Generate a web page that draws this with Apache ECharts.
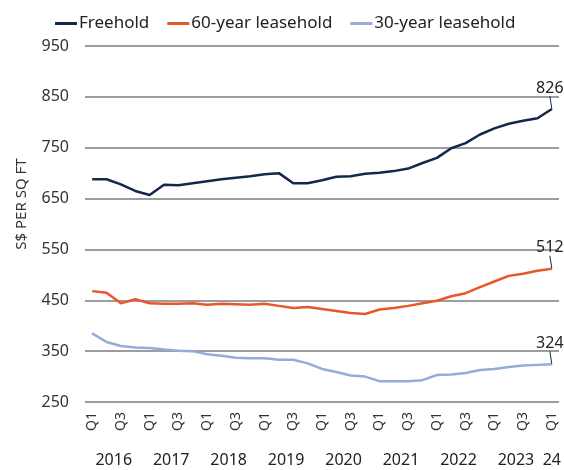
<!DOCTYPE html>
<html>
<head>
<meta charset="utf-8">
<script src="https://cdn.jsdelivr.net/npm/echarts@6/dist/echarts.min.js"></script>
<style>
html,body{margin:0;padding:0;background:#fff;}
#c{width:564px;height:470px;}
</style>
</head>
<body>
<div id="c"></div>
<script>
const quarterLabels = ['Q1','Q2','Q3','Q4','Q1','Q2','Q3','Q4','Q1','Q2','Q3','Q4','Q1','Q2','Q3','Q4','Q1','Q2','Q3','Q4','Q1','Q2','Q3','Q4','Q1','Q2','Q3','Q4','Q1','Q2','Q3','Q4','Q1'];
const yearLabels = ['2016','2017','2018','2019','2020','2021','2022','2023','24'];
const freehold = [688,688,678,665,657,677,676,680,684,688,691,694,698,700,680,680,686,693,694,699,701,704,709,720,730,749,759,776,788,797,803,808,826];
const lease60 = [468,465,444,452,444,443,443,444,441,443,442,441,443,439,435,437,433,429,425,423,432,435,439,444,449,458,464,476,487,498,502,508,512];
const lease30 = [385,368,360,357,356,353,351,350,344,341,337,336,336,333,333,326,315,309,302,300,291,291,291,293,303,304,307,313,315,319,322,323,324];
const seriesNames = ['Freehold','60-year leasehold','30-year leasehold'];
const colors = ['#14284b','#e8572a','#93acd8'];

const FONT = 'Noto Sans';

// secondary (year) axis: half-quarter positions, boundaryGap false
const yearAxisData = new Array(quarterLabels.length * 2 + 1).fill('');
for (let i = 0; i < yearLabels.length - 1; i++) yearAxisData[4 + 8 * i] = yearLabels[i];
yearAxisData[yearAxisData.length - 2] = yearLabels[yearLabels.length - 1];

function withEndLabel(arr) {
  return arr.map((v, i) => i === arr.length - 1
    ? {value: v, symbol: 'circle', symbolSize: 1, label: {show: true}}
    : v);
}

const chart = echarts.init(document.getElementById('c'), null, {renderer: 'canvas'});
chart.setOption({
  animation: false,
  color: colors,
  textStyle: {fontFamily: FONT},
  legend: {
    top: 10, left: 50,
    icon: 'rect', itemWidth: 22, itemHeight: 3, itemGap: 18,
    textStyle: {fontFamily: FONT, fontSize: 17, color: '#222', padding: [0,0,0,-3]},
    data: seriesNames
  },
  grid: {left: 85, right: 0, top: 46, bottom: 68, containLabel: false},
  xAxis: [{
    type: 'category', data: quarterLabels, boundaryGap: true,
    axisLine: {show: false}, axisTick: {show: false},
    axisLabel: {interval: 1, rotate: 90, fontFamily: FONT, fontSize: 14, color: '#333', margin: 10}
  }, {
    type: 'category', data: yearAxisData, boundaryGap: false, position: 'bottom', offset: 42,
    axisLine: {show: false}, axisTick: {show: false},
    axisLabel: {interval: 0, fontFamily: FONT, fontSize: 16, color: '#222', margin: 8}
  }],
  yAxis: {
    type: 'value', min: 250, max: 950, interval: 100,
    name: '{pad|}S$ PER SQ FT', nameLocation: 'middle', nameGap: 56, nameRotate: 90,
    nameTextStyle: {fontFamily: FONT, fontSize: 15, color: '#333', rich: {pad: {width: 40}}},
    axisLine: {show: false}, axisTick: {show: false},
    axisLabel: {fontFamily: FONT, fontSize: 16, color: '#333', margin: 16},
    splitLine: {lineStyle: {color: '#7d7d7d', width: 1.5}}
  },
  series: [freehold, lease60, lease30].map((d, i) => ({
    name: seriesNames[i], type: 'line', data: withEndLabel(d),
    xAxisIndex: 0, symbol: 'none', showSymbol: true,
    itemStyle: {color: colors[i]},
    lineStyle: {width: 2.5, color: colors[i]},
    label: {show: false, position: 'inside', fontFamily: FONT, fontSize: 16, color: '#222', opacity: 1},
    labelLayout: {dx: -2, dy: -21, hideOverlap: false},
    labelLine: {show: true, lineStyle: {color: '#14284b', width: 1}}
  }))
});
</script>
</body>
</html>
